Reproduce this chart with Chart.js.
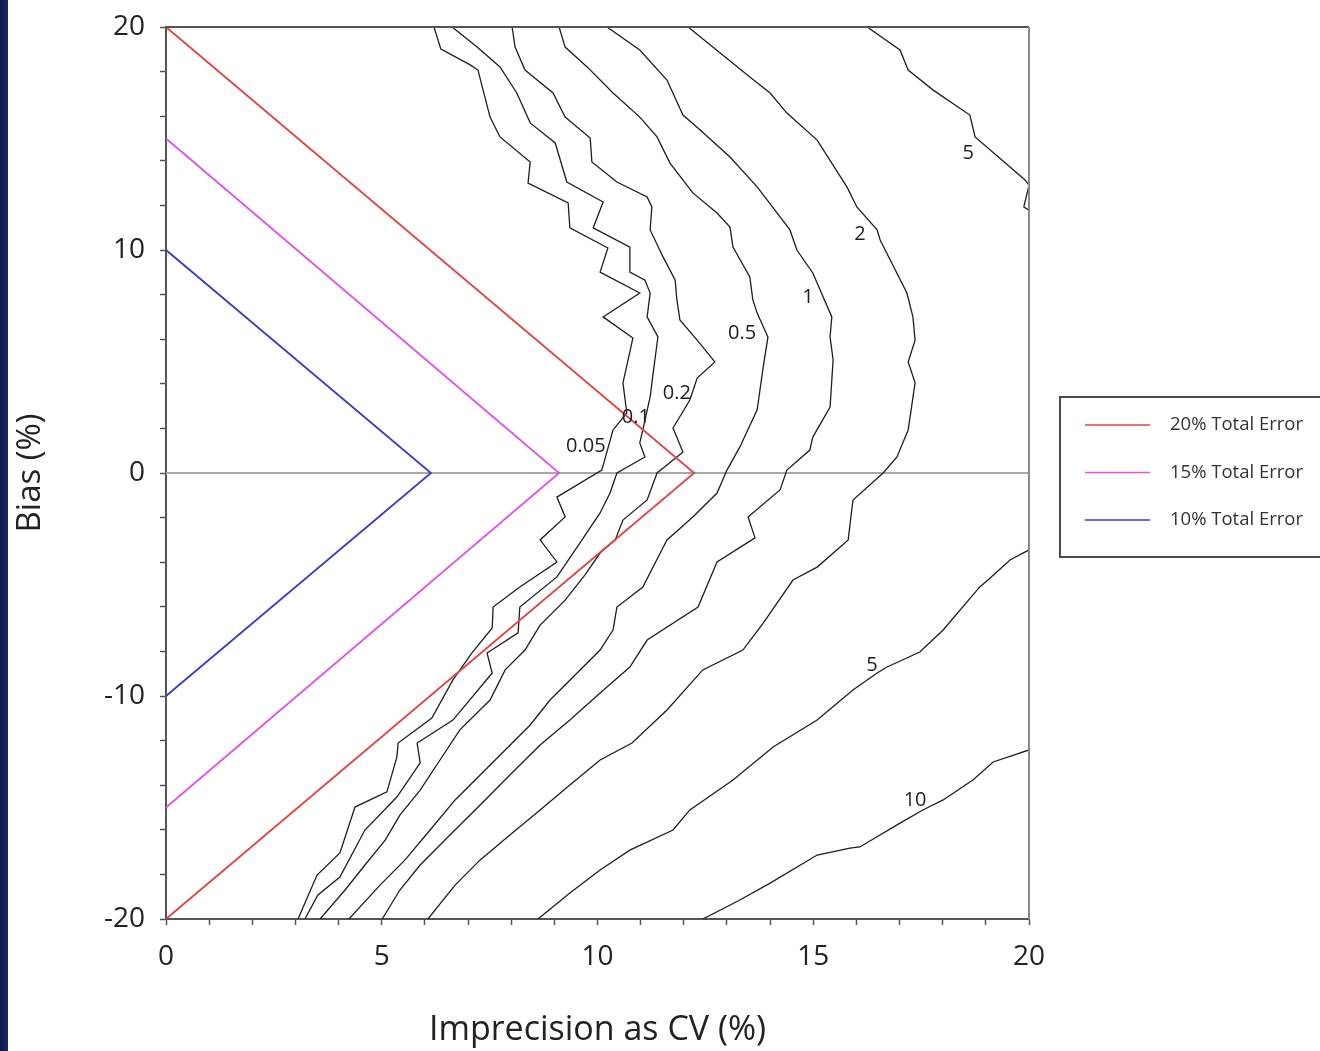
<!DOCTYPE html>
<html>
<head>
<meta charset="utf-8">
<script src="https://cdn.jsdelivr.net/npm/chart.js@4.4.1/dist/chart.umd.min.js"></script>
<style>
  html, body { margin: 0; padding: 0; background: #fff; }
  #wrap { position: relative; width: 1320px; height: 1051px; overflow: hidden; background: #fff; }
  #edge { position: absolute; left: 0; top: 0; width: 8px; height: 1051px; background: linear-gradient(90deg, #0a1747, #15296b); }
</style>
</head>
<body>
<div id="wrap">
  <div id="edge"></div>
  <canvas id="myChart"></canvas>
</div>
<script>
// total error limits: bias + 1.65*CV
const errLabels = ["20% Total Error", "15% Total Error", "10% Total Error"];
const err20 = [[0, 20], [12.24, 0], [0, -20]];
const err15 = [[0, 15], [9.11, 0], [0, -15]];
const err10 = [[0, 10], [6.14, 0], [0, -10]];
const zeroLine = [[0, 0], [20, 0]];

// contour lines, [CV, bias]
const c005 = [[6.21,20],[6.37,19.01],[7.05,18.30],[7.23,18.07],[7.51,15.96],[7.74,15.07],[8.44,13.95],[8.39,13.00],
  [9.32,12.11],[9.36,10.99],[10.24,10.09],[10.06,9.01],[10.98,8.07],[10.13,7.00],[10.82,6.05],[10.59,4.04],
  [10.68,2.69],[10.36,1.93],[10.10,0.13],[9.06,-1.08],[9.25,-1.97],[8.67,-3.00],[9.06,-3.99],[8.20,-5.11],
  [7.58,-6.01],[7.56,-6.95],[7.09,-8.07],[6.65,-9.28],[6.16,-10.99],[5.38,-12.11],[5.35,-12.74],[5.12,-14.30],
  [4.38,-14.98],[4.03,-17.04],[3.50,-18.03],[3.06,-20]];
const c01 = [[6.63,20],[7.21,19.10],[7.74,18.21],[8.13,17.04],[8.44,15.70],[9.02,14.80],[9.29,13.05],[10.13,12.15],
  [9.90,10.99],[10.75,10.13],[10.75,9.01],[11.10,8.65],[11.22,8.07],[11.15,7.00],[11.40,6.10],[11.29,4.48],
  [11.22,3.41],[11.05,1.93],[10.98,1.35],[11.10,0.72],[10.45,0],[10.29,-0.90],[10.06,-1.79],[9.59,-3.14],
  [9.06,-4.66],[8.20,-6.01],[8.16,-7.17],[7.44,-8.07],[7.56,-8.97],[6.65,-11.08],[5.82,-12.11],[5.89,-13.00],
  [5.35,-14.53],[4.61,-16.01],[4.03,-18.12],[3.52,-18.92],[3.22,-20]];
const c02 = [[8.02,20],[8.09,19.10],[8.32,18.07],[8.97,17.04],[9.25,15.96],[9.83,15.02],[9.87,13.95],[10.45,13.05],
  [11.15,12.38],[11.26,11.93],[11.22,10.90],[11.52,9.69],[11.80,8.65],[11.84,7.76],[11.91,6.86],[12.31,5.96],
  [12.72,4.98],[12.31,4.26],[12.14,3.27],[11.96,2.69],[11.75,2.02],[11.98,0.94],[11.84,0.72],[11.38,0],
  [11.15,-1.21],[10.59,-2.11],[10.41,-3.00],[10.06,-3.59],[9.71,-4.57],[9.25,-5.70],[8.67,-6.82],[8.32,-7.94],
  [7.86,-8.83],[7.51,-10.18],[6.81,-11.52],[6.35,-12.87],[5.89,-14.22],[5.42,-15.34],[5.08,-16.46],[4.61,-17.58],
  [4.15,-18.70],[3.57,-20]];
const c05 = [[9.11,20],[9.25,19.10],[9.76,18.21],[10.36,17.04],[10.98,15.96],[11.38,15.07],[11.68,13.90],[12.21,12.56],
  [12.77,11.66],[13.07,11.03],[13.14,10.13],[13.53,8.79],[13.60,7.76],[13.70,7.17],[13.95,6.10],[13.84,4.75],
  [13.70,2.83],[13.30,1.17],[13.00,0.13],[12.77,-0.90],[12.21,-1.97],[11.61,-3.00],[11.49,-3.45],[11.05,-5.11],
  [10.45,-6.01],[10.36,-7.04],[10.06,-7.94],[9.48,-9.06],[8.90,-10.18],[8.44,-11.30],[7.86,-12.42],[7.28,-13.54],
  [6.70,-14.66],[6.12,-16.01],[5.54,-17.35],[4.96,-18.48],[4.24,-20]];
const c1 = [[10.22,20],[10.98,18.97],[11.61,17.62],[11.98,16.05],[12.38,15.38],[13.07,14.17],[13.70,12.83],[14.46,10.90],
  [14.62,10.00],[14.99,8.97],[15.43,7.00],[15.39,6.10],[15.46,5.07],[15.39,2.96],[14.99,1.61],[14.92,1.03],
  [14.39,0.13],[14.23,-0.76],[13.49,-1.97],[13.65,-2.91],[12.77,-3.99],[12.33,-6.01],[11.15,-7.49],[10.75,-8.70],
  [10.06,-9.87],[9.36,-11.08],[8.67,-12.20],[7.97,-13.54],[7.28,-14.89],[6.58,-16.23],[5.89,-17.58],[5.42,-18.70],
  [5.01,-20]];
const c2 = [[12.10,20],[13.53,17.76],[14.00,17.04],[14.39,16.14],[15.09,14.93],[15.78,12.83],[16.01,11.93],[16.48,10.90],
  [16.55,10.45],[17.17,8.07],[17.31,7.00],[17.36,5.96],[17.20,4.98],[17.36,4.04],[17.20,1.93],[16.94,0.72],
  [16.62,0],[15.92,-1.21],[15.81,-3.00],[15.09,-4.22],[14.53,-4.80],[13.84,-6.73],[13.37,-7.94],[12.44,-8.83],
  [11.61,-10.63],[10.80,-12.11],[10.06,-12.87],[9.36,-13.99],[8.67,-15.11],[7.97,-16.23],[7.28,-17.35],[6.70,-18.48],
  [6.07,-20]];
const c5top = [[16.25,20],[17.01,18.97],[17.20,18.07],[17.78,17.17],[18.63,16.05],[18.75,15.07],[19.91,13.14],[20,12.91],
  [19.88,11.93],[20,11.79]];
const c5bot = [[20,-3.45],[19.56,-3.90],[19.10,-4.71],[18.86,-5.11],[18.01,-7.04],[17.47,-8.03],[16.71,-8.70],[16.48,-8.97],
  [15.92,-9.73],[15.09,-11.08],[14.07,-12.29],[13.14,-13.77],[12.14,-15.11],[11.75,-16.01],[10.75,-16.91],[10.06,-17.80],
  [9.36,-18.83],[8.62,-20]];
const c10 = [[20,-12.42],[19.17,-12.96],[18.70,-13.77],[18.01,-14.66],[17.54,-15.11],[17.01,-15.70],[16.08,-16.77],[15.85,-16.82],
  [15.09,-17.13],[14.00,-18.39],[13.30,-19.15],[12.44,-20]];

// contour level labels
const levelText = ["0.05", "0.1", "0.2", "0.5", "1", "2", "5", "5", "10"];
const levelX = [9.73, 10.89, 11.84, 13.35, 14.88, 16.08, 18.59, 16.36, 17.36];
const levelY = [1.21, 2.51, 3.59, 6.28, 7.89, 10.72, 14.35, -8.61, -14.66];

const fontFam = "'Open Sans', 'Noto Sans', sans-serif";

function pts(arr) {
  return arr.map(p => ({x: p[0], y: p[1]}));
}

function contour(arr) {
  return {data: pts(arr), borderColor: '#1e1e1e', borderWidth: 1.3, pointRadius: 0, showLine: true, tension: 0};
}

const labelPlugin = {
  id: 'levelLabels',
  afterDatasetsDraw(chart) {
    const ctx = chart.ctx;
    const xs = chart.scales.x, ys = chart.scales.y;
    ctx.save();
    ctx.font = "20px " + fontFam;
    ctx.fillStyle = '#1e1e1e';
    ctx.textAlign = 'center';
    ctx.textBaseline = 'middle';
    for (let i = 0; i < levelText.length; i++) {
      ctx.fillText(levelText[i], xs.getPixelForValue(levelX[i]), ys.getPixelForValue(levelY[i]));
    }
    ctx.restore();
  }
};

const framePlugin = {
  id: 'frame',
  afterDraw(chart) {
    const ctx = chart.ctx;
    const a = chart.chartArea;
    ctx.save();
    ctx.strokeStyle = '#555';
    ctx.lineWidth = 2;
    ctx.beginPath();
    ctx.moveTo(a.left, a.top);
    ctx.lineTo(a.right, a.top);
    ctx.stroke();
    ctx.strokeStyle = '#8a8a8a';
    ctx.beginPath();
    ctx.moveTo(a.right, a.top);
    ctx.lineTo(a.right, a.bottom);
    ctx.stroke();

    // legend box at the right
    const bx = a.right + 31;
    const by = chart.scales.y.getPixelForValue(0) - 76;
    ctx.strokeStyle = '#4a4a4a';
    ctx.strokeRect(bx, by, 300, 160);
    ctx.font = "18.5px " + fontFam;
    ctx.textBaseline = 'middle';
    ctx.textAlign = 'left';
    const items = chart.data.datasets.filter(d => d.label);
    items.forEach((d, i) => {
      const yy = by + 28 + i * 47.5;
      ctx.strokeStyle = d.borderColor;
      ctx.lineWidth = 1.6;
      ctx.beginPath();
      ctx.moveTo(bx + 25, yy);
      ctx.lineTo(bx + 90, yy);
      ctx.stroke();
      ctx.fillStyle = '#333';
      ctx.fillText(d.label, bx + 110, yy);
    });
    ctx.restore();
  }
};

new Chart(document.getElementById('myChart'), {
  type: 'scatter',
  data: {
    datasets: [
      {label: errLabels[0], data: pts(err20), borderColor: '#e3423f', borderWidth: 1.8, pointRadius: 0, showLine: true},
      {label: errLabels[1], data: pts(err15), borderColor: '#e252e4', borderWidth: 1.8, pointRadius: 0, showLine: true},
      {label: errLabels[2], data: pts(err10), borderColor: '#3b3bc4', borderWidth: 1.8, pointRadius: 0, showLine: true},
      contour(c005), contour(c01), contour(c02), contour(c05), contour(c1), contour(c2),
      contour(c5top), contour(c5bot), contour(c10),
      {data: pts(zeroLine), borderColor: '#a8a8a8', borderWidth: 2, pointRadius: 0, showLine: true}
    ]
  },
  options: {
    responsive: true,
    maintainAspectRatio: false,
    animation: false,
    layout: {padding: {left: 0, right: 291, top: 27, bottom: 0}},
    plugins: {legend: {display: false}, tooltip: {enabled: false}},
    scales: {
      x: {
        type: 'linear', min: 0, max: 20,
        afterFit(scale) { scale.height = 132; },
        grid: {drawOnChartArea: false, drawTicks: true, tickLength: 6, tickColor: '#555', tickWidth: 1.5},
        border: {display: true, color: '#555', width: 2},
        ticks: {
          stepSize: 1, autoSkip: false, maxRotation: 0, padding: 15, color: '#222',
          font: {family: fontFam, size: 28},
          callback: v => (v % 5 === 0 ? v : '')
        },
        title: {display: true, text: 'Imprecision as CV (%)', color: '#222', font: {family: fontFam, size: 34}, padding: {top: 0, bottom: 0}}
      },
      y: {
        type: 'linear', min: -20, max: 20,
        afterFit(scale) {
          scale.width = 166;
          scale.paddingTop = 0;
          scale.paddingBottom = 0;
        },
        grid: {drawOnChartArea: false, drawTicks: true, tickLength: 6, tickColor: '#555', tickWidth: 1.5},
        border: {display: true, color: '#555', width: 2},
        ticks: {
          stepSize: 2, autoSkip: false, padding: 15, color: '#222',
          font: {family: fontFam, size: 28},
          callback: v => (v % 10 === 0 ? v : '')
        },
        title: {display: true, text: 'Bias (%)', color: '#222', font: {family: fontFam, size: 33}, padding: {top: 11, bottom: 0}}
      }
    }
  },
  plugins: [labelPlugin, framePlugin]
});
</script>
</body>
</html>
